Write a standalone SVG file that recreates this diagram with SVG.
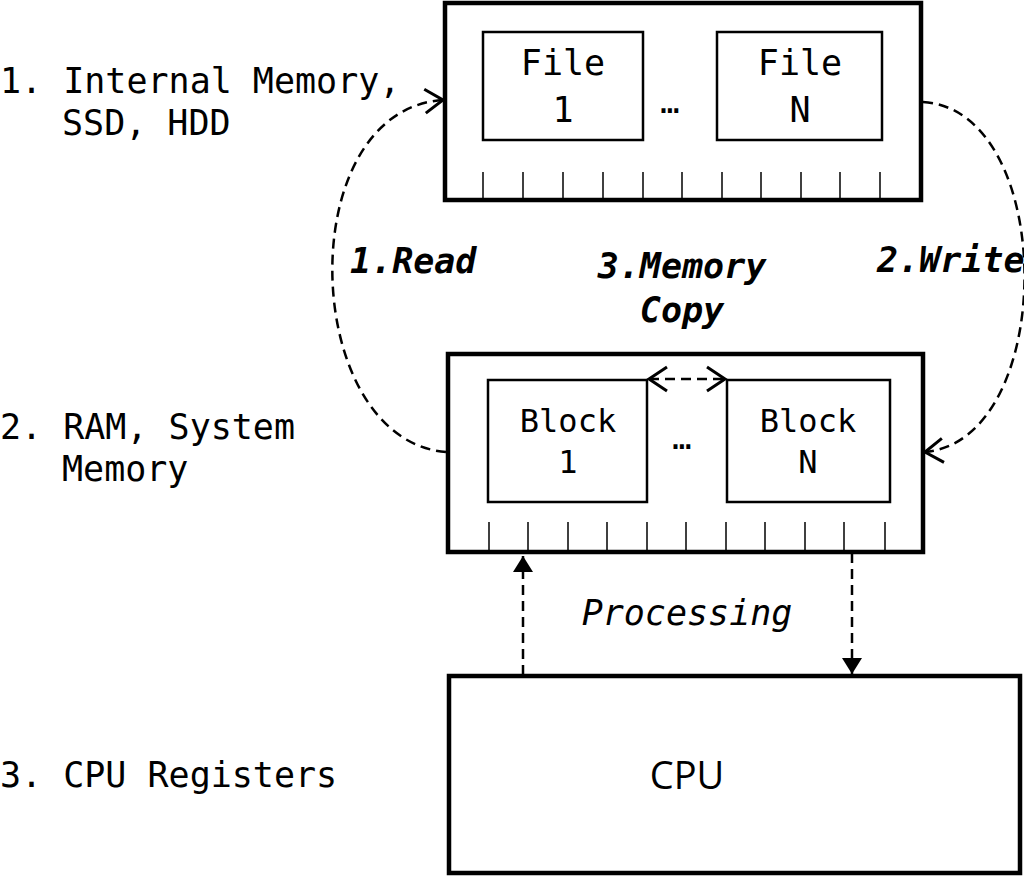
<svg xmlns="http://www.w3.org/2000/svg" width="1024" height="877" viewBox="0 0 1024 877">
<style>
.mono{font-family:"DejaVu Sans Mono","Liberation Mono",monospace;fill:#000}
.lbl{font-size:35px}
.file{font-size:35px;text-anchor:middle}
.blk{font-size:32px;text-anchor:middle}
.bi{font-size:35px;font-weight:bold;font-style:italic}
.outer{fill:#fff;stroke:#000;stroke-width:4.5}
.inner{fill:#fff;stroke:#000;stroke-width:2.5}
.tick{stroke:#000;stroke-width:1.5}
.dash{fill:none;stroke:#000;stroke-width:2.5;stroke-dasharray:10 6}
</style>
<defs>
<marker id="open" markerUnits="userSpaceOnUse" markerWidth="24" markerHeight="28" viewBox="0 0 24 28" refX="21" refY="14" orient="auto-start-reverse">
<path d="M3,2 L21,14 L3,26" fill="none" stroke="#000" stroke-width="3"/>
</marker>
<marker id="solid" markerUnits="userSpaceOnUse" markerWidth="20" markerHeight="22" viewBox="0 0 20 22" refX="17" refY="11" orient="auto">
<path d="M1,1 L17,11 L1,21 Z" fill="#000"/>
</marker>
</defs>
<rect width="1024" height="877" fill="#fff"/>

<g id="level-labels">
<text class="mono lbl" x="0" y="93">1. Internal Memory,</text>
<text class="mono lbl" x="62" y="135">SSD, HDD</text>
<text class="mono lbl" x="0" y="439">2. RAM, System</text>
<text class="mono lbl" x="62" y="481">Memory</text>
<text class="mono lbl" x="0" y="787">3. CPU Registers</text>
</g>

<g id="storage">
<rect class="outer" x="445" y="3" width="476" height="197"/>
<g class="tick">
<line x1="483" y1="172" x2="483" y2="200"/><line x1="523" y1="172" x2="523" y2="200"/><line x1="563" y1="172" x2="563" y2="200"/><line x1="603" y1="172" x2="603" y2="200"/><line x1="643" y1="172" x2="643" y2="200"/><line x1="682" y1="172" x2="682" y2="200"/><line x1="722" y1="172" x2="722" y2="200"/><line x1="761" y1="172" x2="761" y2="200"/><line x1="801" y1="172" x2="801" y2="200"/><line x1="840" y1="172" x2="840" y2="200"/><line x1="880" y1="172" x2="880" y2="200"/>
</g>
<text class="mono blk" x="670" y="113">…</text>
</g>
<g id="file1">
<rect class="inner" x="483" y="32" width="160" height="108"/>
<text class="mono file" x="563" y="75">File</text>
<text class="mono file" x="563" y="122">1</text>
</g>
<g id="fileN">
<rect class="inner" x="717" y="32" width="165" height="108"/>
<text class="mono file" x="800" y="75">File</text>
<text class="mono file" x="800" y="122">N</text>
</g>

<g id="ram">
<rect class="outer" x="448" y="354" width="475" height="198"/>
<g class="tick">
<line x1="489" y1="522" x2="489" y2="552"/><line x1="528" y1="522" x2="528" y2="552"/><line x1="568" y1="522" x2="568" y2="552"/><line x1="607" y1="522" x2="607" y2="552"/><line x1="647" y1="522" x2="647" y2="552"/><line x1="686" y1="522" x2="686" y2="552"/><line x1="726" y1="522" x2="726" y2="552"/><line x1="765" y1="522" x2="765" y2="552"/><line x1="805" y1="522" x2="805" y2="552"/><line x1="844" y1="522" x2="844" y2="552"/><line x1="885" y1="522" x2="885" y2="552"/>
</g>
<text class="mono blk" x="682" y="449">…</text>
</g>
<g id="block1">
<rect class="inner" x="488" y="380" width="159" height="122"/>
<text class="mono blk" x="568" y="432">Block</text>
<text class="mono blk" x="568" y="473">1</text>
</g>
<g id="blockN">
<rect class="inner" x="727" y="380" width="163" height="122"/>
<text class="mono blk" x="808" y="432">Block</text>
<text class="mono blk" x="808" y="473">N</text>
</g>

<g id="cpu">
<rect class="outer" x="449" y="676" width="571" height="197"/>
<text x="687" y="789" font-family="'Open Sans','Noto Sans',sans-serif" font-size="38" text-anchor="middle" fill="#000">CPU</text>
</g>

<g id="connectors">
<path class="dash" d="M446,452 C300,440 290,110 443,100" marker-end="url(#open)"/>
<path class="dash" d="M923,102 C1058,110 1058,440 925,452" marker-end="url(#open)"/>
<path class="dash" d="M649,379 L725,379" marker-start="url(#open)" marker-end="url(#open)"/>
<path class="dash" d="M523,675 L523,556" marker-end="url(#solid)"/>
<path class="dash" d="M852,553 L852,674" marker-end="url(#solid)"/>
</g>

<g id="connector-labels">
<text class="mono bi" x="350" y="273">1.Read</text>
<text class="mono bi" x="877" y="272">2.Write</text>
<text class="mono bi" x="682" y="278" text-anchor="middle">3.Memory</text>
<text class="mono bi" x="682" y="322" text-anchor="middle">Copy</text>
<text class="mono" x="687" y="625" font-size="35" font-style="italic" text-anchor="middle">Processing</text>
</g>
</svg>
